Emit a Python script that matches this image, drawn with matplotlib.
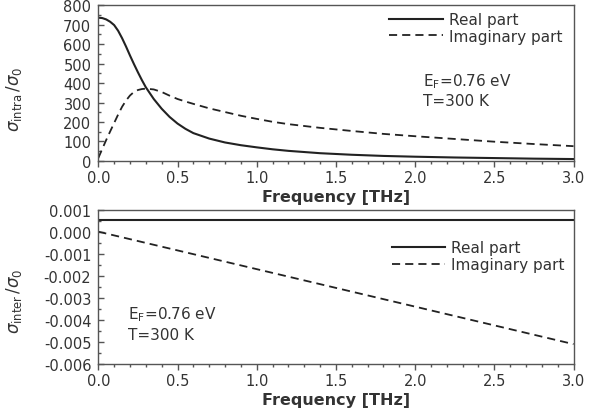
import numpy as np
import matplotlib
matplotlib.use("Agg")
import matplotlib.pyplot as plt
from matplotlib.ticker import MultipleLocator

# values
freq_top = [0.0, 0.025, 0.05, 0.075, 0.1, 0.125, 0.15, 0.175, 0.2, 0.225, 0.25, 0.275,
            0.3, 0.35, 0.4, 0.45, 0.5, 0.55, 0.6, 0.7, 0.8, 0.9, 1.0, 1.1, 1.2,
            1.4, 1.6, 1.8, 2.0, 2.25, 2.5, 2.75, 3.0]
intra_real = [735, 733, 726, 714, 697, 668, 630, 587, 541, 497, 455, 415,
              378, 318, 268, 226, 192, 165, 143, 115, 95, 81, 70, 60, 52,
              40, 32, 26, 22, 18, 15, 12, 10]
intra_imag = [15, 62, 108, 152, 195, 238, 278, 310, 336, 354, 364, 369,
              371, 367, 354, 335, 318, 305, 293, 270, 251, 232, 216, 201, 189,
              170, 154, 139, 127, 113, 99, 87, 76]

freq_bot = [0.0, 3.0]
inter_real = [0.00055, 0.00055]
inter_imag = [0.0, -0.0051]

labels = ["Real part", "Imaginary part"]
note = ["E$_\\mathrm{F}$=0.76 eV", "T=300 K"]

plt.rcParams['font.family'] = ['DejaVu Sans']
plt.rcParams['mathtext.fontset'] = 'dejavusans'
txt = '#333333'
line_c = '#222222'
spine_c = '#555555'
dash = (0, (4.5, 2.8))

fig = plt.figure(figsize=(5.98, 4.14), dpi=100)
ax1 = fig.add_axes([0.1644, 0.6087, 0.7947, 0.3768])
ax2 = fig.add_axes([0.1644, 0.1184, 0.7947, 0.3729])


def style(ax):
    for s in ax.spines.values():
        s.set_color(spine_c)
        s.set_linewidth(1.0)
    ax.tick_params(axis='x', which='both', direction='out', colors=spine_c, labelcolor=txt,
                   labelsize=10.5, top=False, pad=2.5)
    ax.tick_params(axis='y', which='both', direction='in', colors=spine_c, labelcolor=txt,
                   labelsize=10.5, right=False, pad=5)
    ax.tick_params(which='major', length=4, width=1.0)
    ax.tick_params(which='minor', length=2.5, width=1.0)
    ax.xaxis.set_major_locator(MultipleLocator(0.5))
    ax.xaxis.set_minor_locator(MultipleLocator(0.1))
    ax.set_xlim(0, 3.0)
    ax.set_xticklabels([f"{v:.1f}" for v in ax.get_xticks()])
    ax.set_xlabel("Frequency [THz]", fontsize=11.5, fontweight='bold', color=txt, labelpad=3)


# top panel: intraband
ax1.plot(freq_top, intra_real, color=line_c, lw=1.5, label=labels[0])
ax1.plot(freq_top, intra_imag, color=line_c, lw=1.3, ls=dash, label=labels[1])
ax1.set_ylim(0, 800)
ax1.yaxis.set_major_locator(MultipleLocator(100))
ax1.yaxis.set_minor_locator(MultipleLocator(50))
style(ax1)
ax1.set_ylabel(r"$\sigma_{\mathrm{intra}}\,/\sigma_0$", fontsize=12, color=txt)
ax1.yaxis.set_label_coords(-0.157, 0.40)
ax1.legend(loc='upper right', bbox_to_anchor=(0.976, 0.955), frameon=False, fontsize=11,
           handlelength=3.5, handletextpad=0.4, labelspacing=0.1, borderpad=0,
           borderaxespad=0, labelcolor=txt)
ax1.text(0.683, 0.515, note[0], transform=ax1.transAxes, fontsize=11, color=txt, va='center')
ax1.text(0.683, 0.39, note[1], transform=ax1.transAxes, fontsize=11, color=txt, va='center')

# bottom panel: interband
ax2.plot(freq_bot, inter_real, color=line_c, lw=1.5, label=labels[0])
ax2.plot(freq_bot, inter_imag, color=line_c, lw=1.3, ls=dash, label=labels[1])
ax2.set_ylim(-0.006, 0.001)
ax2.yaxis.set_major_locator(MultipleLocator(0.001))
ax2.yaxis.set_minor_locator(MultipleLocator(0.0005))
ax2.set_yticklabels([f"{v:.3f}" for v in ax2.get_yticks()])
style(ax2)
ax2.set_ylabel(r"$\sigma_{\mathrm{inter}}\,/\sigma_0$", fontsize=12, color=txt)
ax2.yaxis.set_label_coords(-0.157, 0.41)
ax2.legend(loc='upper right', bbox_to_anchor=(0.982, 0.80), frameon=False, fontsize=11,
           handlelength=3.5, handletextpad=0.4, labelspacing=0.1, borderpad=0,
           borderaxespad=0, labelcolor=txt)
ax2.text(0.063, 0.324, note[0], transform=ax2.transAxes, fontsize=11, color=txt, va='center')
ax2.text(0.063, 0.194, note[1], transform=ax2.transAxes, fontsize=11, color=txt, va='center')

fig.savefig("out.png", dpi=100)
